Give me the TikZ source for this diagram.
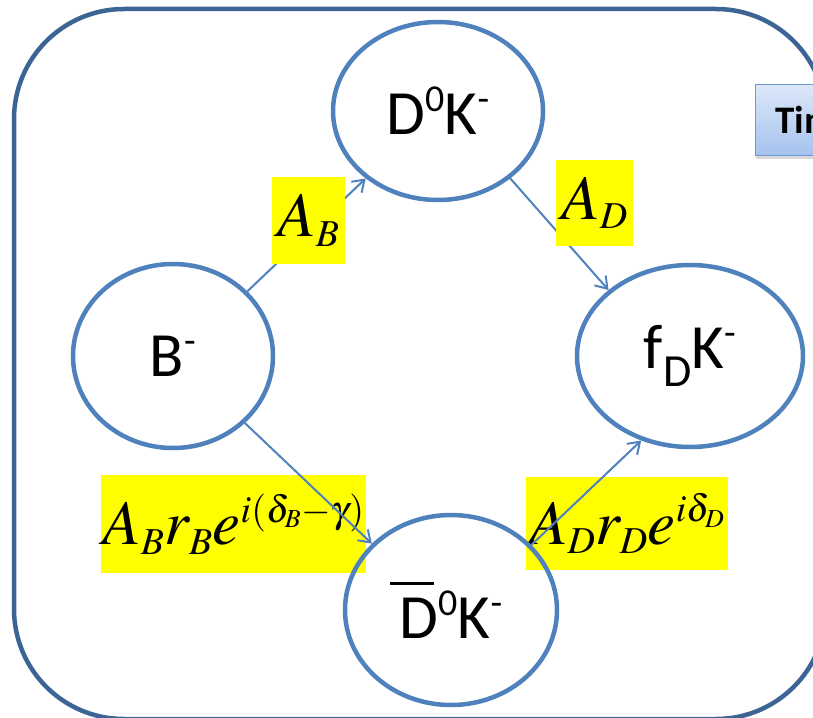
\documentclass[tikz,border=0pt]{standalone}
\usepackage{mathptmx}
\usepackage[no-math]{fontspec}
\setmainfont{Carlito}
\usetikzlibrary{arrows.meta,shapes.geometric,shadows}
\definecolor{Frame}{HTML}{3C6494}
\definecolor{Ring}{HTML}{4F81BD}
\definecolor{Hi}{HTML}{FFFF00}
\definecolor{TabTop}{HTML}{DDE8F9}
\definecolor{TabBot}{HTML}{A5C2EE}
\definecolor{TabLine}{HTML}{6E97D6}
\DeclareMathSizes{63}{63}{38}{26}
\newcommand{\barD}{\leavevmode\rlap{\kern-0.15em\rule[0.85em]{0.7em}{0.05em}}D}
\newcommand{\lowidx}[1]{\raisebox{-0.28em}{\fontsize{46}{46}\selectfont #1}}

\begin{document}
\begin{tikzpicture}[
  x=1pt,
  y=-1pt,
  every node/.style={
    inner sep=0pt,
    align=center
  },
  ring/.style={
    ellipse,
    draw=Ring,
    line width=4.5pt,
    font=\fontsize{63}{70}\selectfont
  },
  tag/.style={
    fill=Hi,
    font=\fontsize{63}{70}\selectfont
  },
  link/.style={
    -{Straight Barb[length=11pt,width=15pt]},
    Ring,
    line width=2pt
  }
]

\useasboundingbox (0,0) rectangle (813,717);
\clip (0,0) rectangle (813,717);

% outer frame
\draw[
  Frame,
  line width=4.5pt,
  rounded corners=110pt
] (14,9) rectangle (826,719);

\node[
  draw=TabLine,
  line width=1.2pt,
  top color=TabTop,
  bottom color=TabBot,
  drop shadow={shadow xshift=0pt,shadow yshift=-3pt,opacity=.3},
  minimum height=71pt,
  text width=120pt,
  inner xsep=20pt,
  align=left,
  anchor=north west,
  font=\fontsize{39}{44}\selectfont\bfseries
] (tab) at (755,84)
{Tim};

% amplitudes on the lower paths
\node[
  tag,
  minimum width=265pt,
  minimum height=98pt
] (labr) at (233.5,524)
{$A_B r_B e^{i(\delta_B-\gamma)}$};

\node[
  tag,
  minimum width=202pt,
  minimum height=93pt
] (ladr) at (627,523.5)
{$A_D r_D e^{i\delta_D}$};

% states
\node[
  ring,
  minimum width=210pt,
  minimum height=178pt
] (d0) at (438,111)
{D\textsuperscript{0}K\textsuperscript{-}};

\node[
  ring,
  minimum width=200pt,
  minimum height=184pt
] (b) at (173,356)
{B\textsuperscript{-}};

\node[
  ring,
  minimum width=226pt,
  minimum height=182pt
] (fd) at (690,356)
{f\lowidx{D}K\textsuperscript{-}};

\node[
  ring,
  minimum width=212pt,
  minimum height=190pt
] (db) at (451,610)
{\barD\textsuperscript{0}K\textsuperscript{-}};

\draw[link] (b.41) -- (d0.-137);
\draw[link] (d0.-43) -- (fd.141);
\draw[link] (b.-43) -- (db.140);
\draw[link] (db.39) -- (fd.-120);

% amplitudes on the upper paths
\node[
  tag,
  minimum width=73pt,
  minimum height=87pt
] (lab) at (308.5,220.5)
{$A_B$};

\node[
  tag,
  minimum width=77pt,
  minimum height=86pt
] (lad) at (594.5,203)
{$A_D$};

\end{tikzpicture}
\end{document}
